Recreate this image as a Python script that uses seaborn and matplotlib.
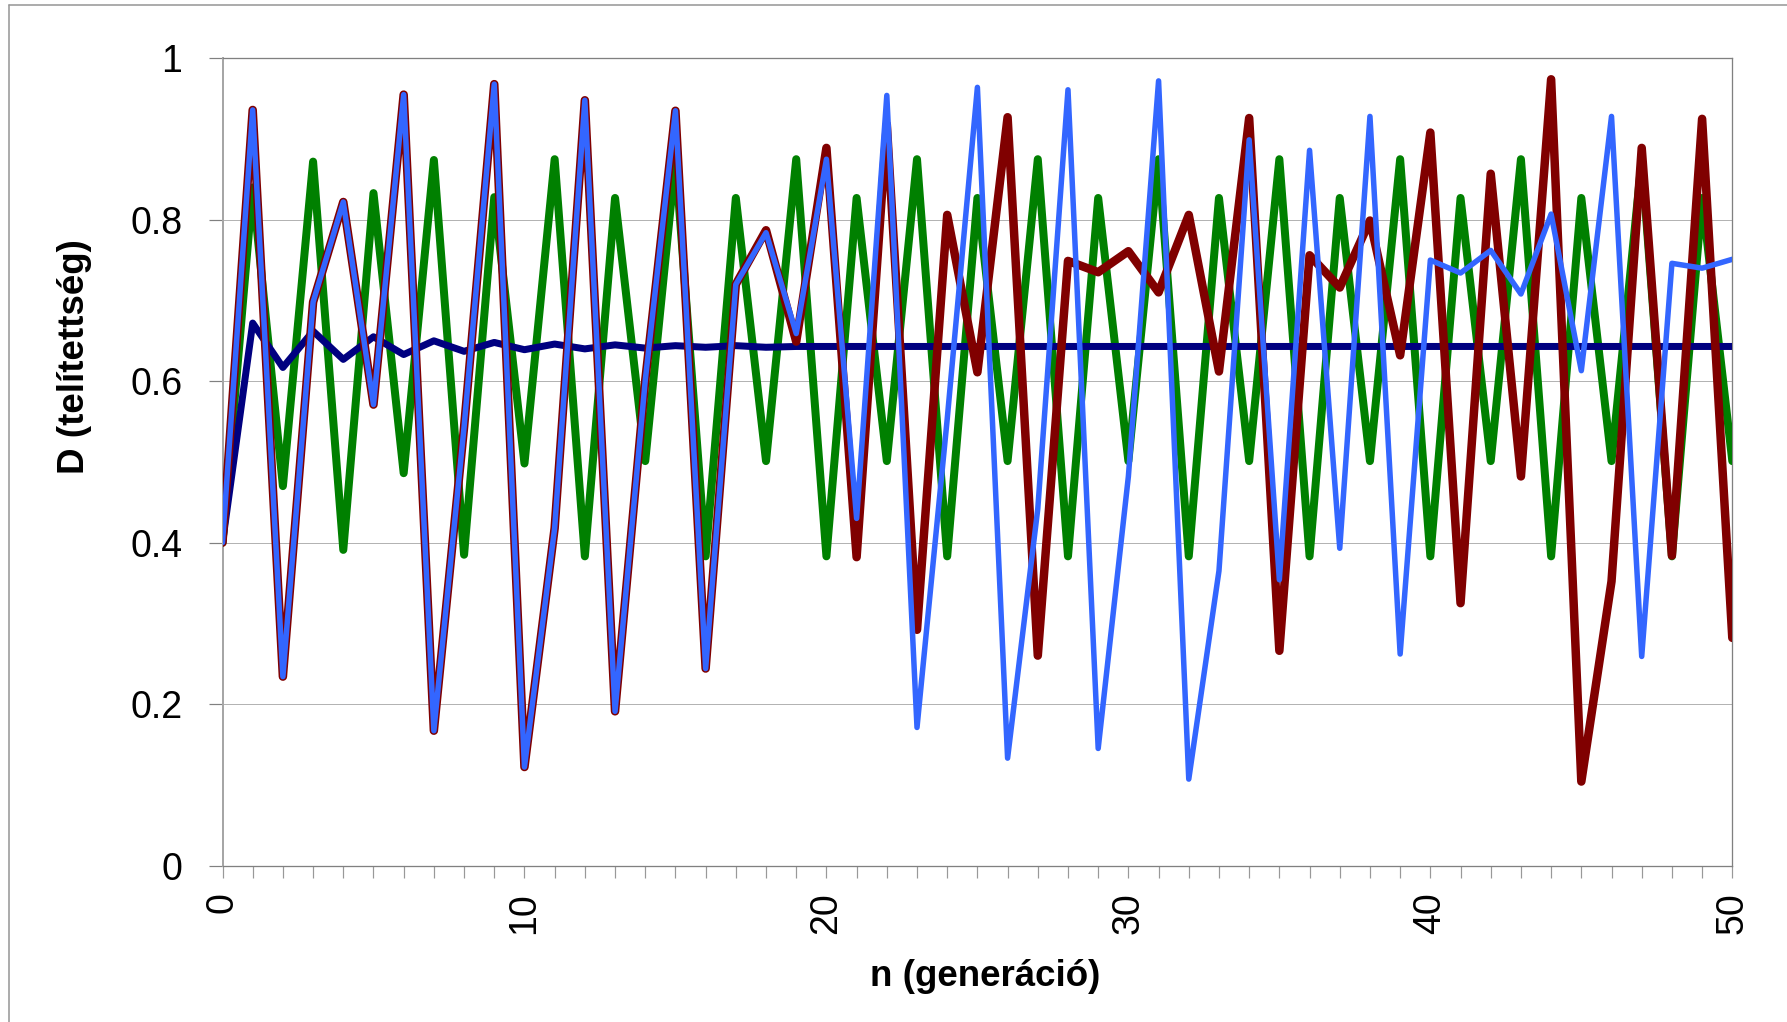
import matplotlib
matplotlib.use("Agg")
import matplotlib.pyplot as plt
import seaborn as sns
import pandas as pd
import numpy as np
from matplotlib.lines import Line2D
from matplotlib.ticker import MultipleLocator

# ---------------- data ----------------
n_values = list(range(0, 51))

navy_series = [0.400, 0.672, 0.617, 0.662, 0.627, 0.655, 0.633, 0.650, 0.637, 0.648,
               0.639, 0.646, 0.640, 0.645, 0.641, 0.644, 0.642, 0.644, 0.642, 0.643,
               0.643, 0.643, 0.643, 0.643, 0.643, 0.643, 0.643, 0.643, 0.643, 0.643,
               0.643, 0.643, 0.643, 0.643, 0.643, 0.643, 0.643, 0.643, 0.643, 0.643,
               0.643, 0.643, 0.643, 0.643, 0.643, 0.643, 0.643, 0.643, 0.643, 0.643,
               0.643]

green_series = [0.400, 0.840, 0.470, 0.872, 0.391, 0.833, 0.486, 0.874, 0.385, 0.828,
                0.498, 0.875, 0.383, 0.827, 0.501, 0.875, 0.383, 0.827, 0.501, 0.875,
                0.383, 0.827, 0.501, 0.875, 0.383, 0.827, 0.501, 0.875, 0.383, 0.827,
                0.501, 0.875, 0.383, 0.827, 0.501, 0.875, 0.383, 0.827, 0.501, 0.875,
                0.383, 0.827, 0.501, 0.875, 0.383, 0.827, 0.501, 0.875, 0.383, 0.827,
                0.501]

red_series = [0.400, 0.936, 0.234, 0.698, 0.822, 0.571, 0.955, 0.167, 0.543, 0.968,
              0.122, 0.418, 0.948, 0.191, 0.601, 0.935, 0.244, 0.720, 0.787, 0.649,
              0.889, 0.382, 0.918, 0.292, 0.806, 0.611, 0.927, 0.260, 0.749, 0.735,
              0.761, 0.710, 0.806, 0.612, 0.926, 0.266, 0.756, 0.716, 0.799, 0.632,
              0.908, 0.325, 0.857, 0.482, 0.974, 0.104, 0.352, 0.889, 0.384, 0.925,
              0.282]

blue_series = [0.400, 0.936, 0.234, 0.698, 0.822, 0.571, 0.955, 0.167, 0.543, 0.968,
               0.122, 0.418, 0.948, 0.191, 0.601, 0.935, 0.244, 0.720, 0.784, 0.659,
               0.875, 0.430, 0.954, 0.171, 0.553, 0.964, 0.133, 0.442, 0.961, 0.145,
               0.482, 0.972, 0.107, 0.365, 0.899, 0.354, 0.886, 0.393, 0.928, 0.262,
               0.750, 0.734, 0.762, 0.708, 0.807, 0.613, 0.928, 0.259, 0.746, 0.740,
               0.751]

y_ticks = [0, 0.2, 0.4, 0.6, 0.8, 1.0]
y_tick_labels = ["0", "0.2", "0.4", "0.6", "0.8", "1"]
x_ticks = [0, 10, 20, 30, 40, 50]
x_tick_labels = ["0", "10", "20", "30", "40", "50"]
x_label = "n (generáció)"
y_label = "D (telítettség)"

# ---------------- style ----------------
sns.set_style("white")
plt.rcParams["font.family"] = ["Liberation Sans", "DejaVu Sans"]
plt.rcParams["text.color"] = "black"
plt.rcParams["axes.labelcolor"] = "black"
plt.rcParams["xtick.color"] = "black"
plt.rcParams["ytick.color"] = "black"

W, H = 1787, 1022
fig = plt.figure(figsize=(W / 100, H / 100), dpi=100)

left, right, top, bottom = 222.5, 1732.3, 58.3, 865.5
ax = fig.add_axes([left / W, 1 - bottom / H, (right - left) / W, (bottom - top) / H])

df = pd.DataFrame({"n": n_values, "navy": navy_series, "green": green_series,
                   "red": red_series, "blue": blue_series})

px = 0.72  # points per pixel at dpi 100
series_style = [
    ("green", "#008000", 8.0, 3),
    ("navy", "#000080", 7.0, 4),
    ("red", "#800000", 8.5, 5),
    ("blue", "#3366FF", 5.5, 6),
]
for col, color, lw, z in series_style:
    sns.lineplot(data=df, x="n", y=col, ax=ax, color=color, linewidth=lw * px,
                 zorder=z, solid_joinstyle="round", solid_capstyle="round",
                 legend=False)

ax.set_xlim(0, 50)
ax.set_ylim(0, 1)

# grid
ax.yaxis.grid(True, color="#b3b3b3", linewidth=1.0 * px, zorder=0)
ax.xaxis.grid(False)
ax.set_axisbelow(True)

# spines
for s in ["top", "right", "bottom"]:
    ax.spines[s].set_color("#808080")
    ax.spines[s].set_linewidth(1.3 * px)
ax.spines["left"].set_color("#a6a6a6")
ax.spines["left"].set_linewidth(2.0 * px)

# ticks
ax.set_yticks(y_ticks)
ax.set_yticklabels(y_tick_labels)
ax.set_xticks(x_ticks)
ax.set_xticklabels(x_tick_labels, rotation=90)
ax.xaxis.set_minor_locator(MultipleLocator(1))
ax.tick_params(axis="y", which="major", direction="out", length=14 * px, width=1.2 * px,
               color="#808080", pad=26 * px, labelsize=27, labelcolor="black", left=True)
ax.tick_params(axis="x", which="both", direction="out", length=12 * px, width=1.2 * px,
               color="#999999", bottom=True)
ax.tick_params(axis="x", which="major", pad=15 * px, labelsize=27, labelcolor="black")
for lbl in ax.get_xticklabels():
    lbl.set_horizontalalignment("center")
    lbl.set_verticalalignment("top")

ax.set_xlabel("")
ax.set_ylabel("")

fig.text(985 / W, 1 - 976 / H, x_label, ha="center", va="center",
         fontsize=26.5, fontweight="bold", color="black")
fig.text(75 / W, 1 - 357 / H, y_label, ha="center", va="center", rotation=90,
         fontsize=26.5, fontweight="bold", color="black")

# outer chart-area border (only top and left are visible in the reference)
fig.add_artist(Line2D([9 / W, 1.0], [1 - 5.3 / H, 1 - 5.3 / H], transform=fig.transFigure,
                      color="#999999", linewidth=1.6 * px))
fig.add_artist(Line2D([9 / W, 9 / W], [0.0, 1 - 5.3 / H], transform=fig.transFigure,
                      color="#999999", linewidth=1.6 * px))

fig.savefig("out.png", dpi=100, facecolor="white")
